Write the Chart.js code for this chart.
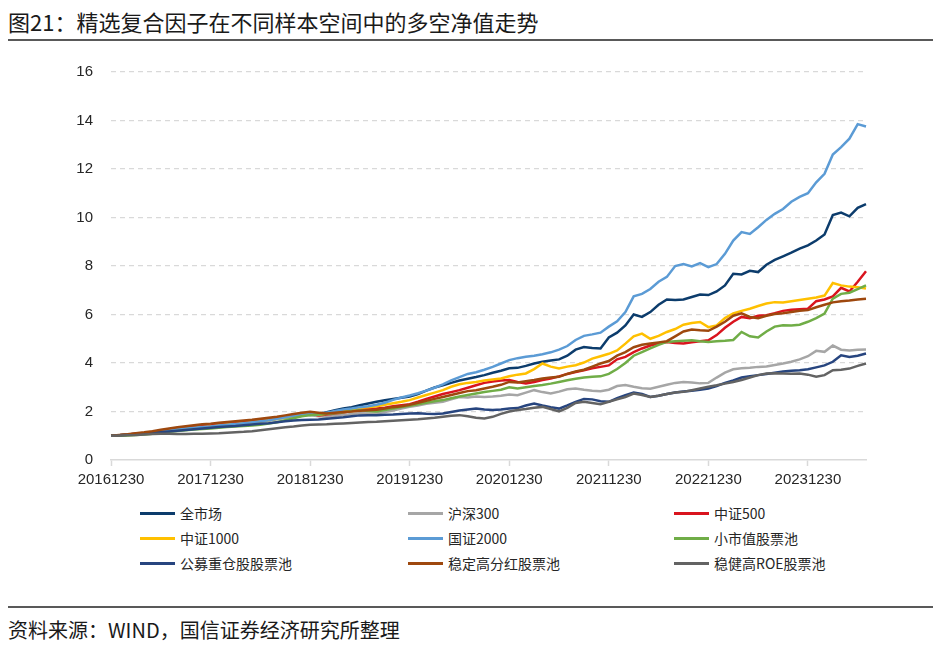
<!DOCTYPE html>
<html><head><meta charset="utf-8">
<script src="https://cdn.jsdelivr.net/npm/chart.js@4"></script>
<style>
html,body{margin:0;padding:0;background:#fff;width:933px;height:652px;overflow:hidden;font-family:"Noto Sans CJK SC","Noto Sans",sans-serif;}
#title{position:absolute;left:8px;top:6px;font-size:22px;color:#1a1a1a;white-space:nowrap;line-height:30px;}
#rule1{position:absolute;left:8px;right:0;top:39px;height:2px;background:#595959;}
#rule2{position:absolute;left:8px;right:0;top:606px;height:2px;background:#595959;}
#source{position:absolute;left:8px;top:615px;font-size:20px;color:#1a1a1a;white-space:nowrap;line-height:30px;}
#wrap{position:absolute;left:0;top:45px;width:933px;height:450px;}
.lg{position:absolute;height:20px;display:flex;align-items:center;font-size:14px;color:#262626;white-space:nowrap;}
.lg span.l{display:inline-block;width:35px;height:3px;margin-right:5px;}
</style></head>
<body>
<div id="title">图21：精选复合因子在不同样本空间中的多空净值走势</div>
<div id="rule1"></div>
<div id="wrap"><canvas id="c"></canvas></div>
<div id="legend"></div>
<div id="rule2"></div>
<div id="source">资料来源：WIND，国信证券经济研究所整理</div>
<script>
// x tick labels (year ends)
const yearTicks = ['20161230','20171230','20181230','20191230','20201230','20211230','20221230','20231230'];
// monthly categories Dec 2016 .. Jul 2024
const months = [];
for (let i = 0; i < 92; i++) { const y = 2016 + Math.floor((11 + i) / 12); const mo = (11 + i) % 12 + 1; months.push(String(y) + String(mo).padStart(2, '0')); }

const seriesNames = ['全市场','沪深300','中证500','中证1000','国证2000','小市值股票池','公募重仓股股票池','稳定高分红股票池','稳健高ROE股票池'];

const allMarket = [1.00,1.02,1.05,1.08,1.11,1.15,1.19,1.24,1.28,1.31,1.34,1.37,1.40,1.44,1.47,1.50,1.54,1.58,1.62,1.66,1.71,1.76,1.81,1.85,1.88,1.90,1.97,2.05,2.12,2.18,2.26,2.33,2.40,2.46,2.52,2.57,2.62,2.72,2.86,2.99,3.08,3.18,3.28,3.35,3.42,3.50,3.60,3.68,3.78,3.80,3.88,3.98,4.05,4.10,4.15,4.30,4.55,4.66,4.62,4.60,5.05,5.25,5.55,6.00,5.90,6.10,6.40,6.62,6.60,6.62,6.72,6.82,6.80,6.95,7.20,7.68,7.65,7.80,7.75,8.05,8.25,8.40,8.55,8.72,8.85,9.05,9.30,10.10,10.20,10.05,10.40,10.55];
const hs300 = [1.00,1.02,1.04,1.06,1.09,1.13,1.17,1.21,1.25,1.28,1.31,1.33,1.35,1.39,1.43,1.46,1.50,1.54,1.58,1.63,1.68,1.74,1.79,1.83,1.86,1.80,1.78,1.82,1.86,1.90,1.93,1.92,1.92,1.98,2.04,2.12,2.19,2.25,2.32,2.36,2.40,2.50,2.60,2.58,2.62,2.60,2.62,2.65,2.70,2.67,2.78,2.88,2.80,2.74,2.82,2.92,2.95,2.90,2.86,2.84,2.90,3.05,3.09,3.02,2.96,2.94,3.02,3.10,3.18,3.22,3.20,3.16,3.18,3.40,3.60,3.74,3.78,3.80,3.84,3.86,3.92,3.98,4.05,4.15,4.28,4.50,4.46,4.72,4.55,4.52,4.55,4.56];
const zz500 = [1.00,1.02,1.05,1.08,1.11,1.15,1.20,1.25,1.30,1.33,1.36,1.39,1.42,1.46,1.50,1.52,1.56,1.60,1.64,1.68,1.74,1.80,1.86,1.90,1.94,1.84,1.88,1.92,1.96,2.02,2.08,2.10,2.12,2.16,2.22,2.26,2.30,2.40,2.52,2.62,2.72,2.80,2.88,2.98,3.08,3.18,3.24,3.28,3.30,3.22,3.16,3.22,3.30,3.36,3.45,3.55,3.63,3.70,3.78,3.84,3.90,4.15,4.25,4.45,4.60,4.72,4.80,4.87,4.82,4.80,4.86,4.90,4.94,5.15,5.45,5.70,5.90,5.85,5.95,5.97,6.05,6.15,6.20,6.22,6.24,6.55,6.62,6.75,7.10,6.95,7.35,7.78];
const zz1000 = [1.00,1.02,1.04,1.06,1.09,1.13,1.18,1.22,1.26,1.29,1.32,1.35,1.38,1.42,1.46,1.48,1.52,1.56,1.60,1.64,1.70,1.76,1.82,1.86,1.90,1.86,1.92,1.98,2.02,2.08,2.15,2.18,2.22,2.28,2.34,2.40,2.47,2.58,2.68,2.78,2.88,3.02,3.12,3.18,3.22,3.28,3.32,3.36,3.45,3.52,3.57,3.75,3.98,3.85,3.77,3.85,3.91,4.02,4.18,4.28,4.38,4.52,4.80,5.10,5.21,5.00,5.12,5.28,5.40,5.58,5.65,5.69,5.48,5.55,5.85,6.05,6.15,6.24,6.35,6.45,6.51,6.50,6.55,6.60,6.65,6.70,6.78,7.30,7.20,7.15,7.12,7.07];
const gz2000 = [1.00,1.02,1.05,1.07,1.09,1.13,1.18,1.22,1.27,1.30,1.33,1.36,1.38,1.42,1.45,1.48,1.52,1.56,1.60,1.64,1.70,1.76,1.82,1.86,1.90,1.88,1.95,2.02,2.08,2.12,2.18,2.22,2.28,2.36,2.48,2.58,2.66,2.75,2.86,2.98,3.12,3.28,3.42,3.55,3.62,3.72,3.84,3.98,4.12,4.20,4.26,4.30,4.36,4.44,4.55,4.70,4.95,5.12,5.18,5.25,5.50,5.72,6.10,6.75,6.85,7.05,7.35,7.55,8.00,8.08,7.98,8.12,7.95,8.08,8.50,9.05,9.40,9.32,9.60,9.90,10.15,10.35,10.65,10.85,11.00,11.45,11.80,12.60,12.90,13.25,13.85,13.75];
const smallCap = [1.00,1.00,1.01,1.03,1.05,1.08,1.12,1.16,1.20,1.23,1.26,1.28,1.30,1.33,1.36,1.38,1.40,1.42,1.45,1.50,1.56,1.64,1.72,1.80,1.85,1.88,1.90,1.93,1.97,2.02,2.05,2.02,2.00,2.06,2.12,2.18,2.24,2.30,2.36,2.42,2.47,2.55,2.62,2.68,2.74,2.80,2.85,2.90,3.00,2.95,3.00,3.05,3.09,3.15,3.22,3.29,3.35,3.40,3.43,3.45,3.55,3.75,4.00,4.30,4.45,4.60,4.75,4.87,4.90,4.92,4.94,4.90,4.87,4.90,4.92,4.95,5.28,5.10,5.05,5.30,5.50,5.56,5.55,5.58,5.70,5.85,6.04,6.65,6.85,6.90,7.05,7.20];
const fundHeavy = [1.00,1.02,1.04,1.06,1.09,1.12,1.15,1.18,1.21,1.24,1.27,1.30,1.33,1.36,1.38,1.40,1.43,1.46,1.49,1.52,1.56,1.60,1.63,1.65,1.66,1.67,1.70,1.73,1.76,1.80,1.84,1.85,1.85,1.87,1.88,1.90,1.92,1.93,1.91,1.90,1.92,1.98,2.04,2.08,2.12,2.08,2.06,2.08,2.12,2.14,2.25,2.33,2.25,2.18,2.12,2.25,2.40,2.52,2.50,2.42,2.40,2.55,2.67,2.78,2.72,2.60,2.65,2.72,2.78,2.82,2.86,2.90,2.95,3.05,3.18,3.28,3.40,3.45,3.50,3.55,3.60,3.65,3.68,3.70,3.74,3.82,3.90,4.05,4.32,4.25,4.30,4.39];
const highDiv = [1.00,1.03,1.06,1.10,1.14,1.19,1.25,1.30,1.35,1.39,1.43,1.47,1.50,1.54,1.57,1.60,1.63,1.66,1.70,1.74,1.78,1.84,1.90,1.95,1.99,1.95,1.92,1.95,1.98,2.00,2.03,2.05,2.07,2.12,2.18,2.22,2.28,2.36,2.44,2.52,2.60,2.68,2.76,2.84,2.88,2.95,3.02,3.10,3.22,3.20,3.25,3.30,3.36,3.40,3.43,3.55,3.65,3.72,3.85,3.98,4.08,4.30,4.45,4.65,4.75,4.80,4.85,4.90,5.10,5.30,5.38,5.35,5.33,5.50,5.70,5.95,6.05,5.90,5.85,5.95,6.02,6.05,6.10,6.15,6.18,6.30,6.40,6.50,6.55,6.58,6.62,6.65];
const highRoe = [1.00,1.01,1.02,1.03,1.05,1.07,1.08,1.08,1.07,1.07,1.08,1.08,1.09,1.10,1.12,1.14,1.16,1.19,1.23,1.27,1.31,1.35,1.38,1.42,1.45,1.46,1.47,1.49,1.51,1.53,1.55,1.57,1.58,1.60,1.62,1.64,1.66,1.68,1.71,1.74,1.78,1.82,1.85,1.80,1.74,1.71,1.78,1.90,2.00,2.06,2.10,2.15,2.19,2.10,2.00,2.15,2.35,2.40,2.35,2.30,2.40,2.50,2.60,2.74,2.68,2.60,2.65,2.72,2.78,2.81,2.88,2.95,3.02,3.08,3.15,3.22,3.30,3.40,3.50,3.57,3.58,3.57,3.56,3.57,3.52,3.43,3.50,3.70,3.72,3.77,3.88,3.98];

const seriesData = [allMarket, hs300, zz500, zz1000, gz2000, smallCap, fundHeavy, highDiv, highRoe];
const seriesColors = ['#0c3c6c','#a6a6a6','#d9141e','#ffc000','#5b9bd5','#70ad47','#27457f','#9e480e','#636363'];

const datasets = seriesNames.map((n, i) => ({
  label: n, data: seriesData[i], borderColor: seriesColors[i], backgroundColor: seriesColors[i],
  borderWidth: 2.5, pointRadius: 0, tension: 0, fill: false, order: 9 - i
}));

new Chart(document.getElementById('c'), {
  type: 'line',
  data: { labels: months, datasets },
  options: {
    responsive: true, maintainAspectRatio: false, animation: false,
    layout: { padding: { left: 0, right: 67, top: 16, bottom: 0 } },
    plugins: { legend: { display: false }, tooltip: { enabled: false } },
    scales: {
      x: {
        type: 'category', offset: false,
        afterFit: s => { s.height = 35; },
        grid: { drawOnChartArea: false, drawTicks: true, tickLength: 6, tickWidth: 1.5,
          tickColor: ctx => (ctx.index % 12 === 0 ? '#d9d9d9' : 'rgba(0,0,0,0)') },
        border: { display: true, color: '#d9d9d9', width: 1.5 },
        ticks: { autoSkip: false, maxRotation: 0, minRotation: 0, padding: 5, color: '#262626',
          font: { family: 'Liberation Sans', size: 15 },
          callback: (v, i) => (i % 12 === 0 ? yearTicks[i / 12] : '') }
      },
      y: {
        min: 0, max: 16,
        afterFit: s => { s.width = 111; },
        grid: { color: ctx => (ctx.tick && ctx.tick.value === 0 ? 'rgba(0,0,0,0)' : '#d9d9d9'), lineWidth: 1.2, drawTicks: false },
        border: { display: false, dash: [5, 4] },
        ticks: { stepSize: 2, padding: 18, color: '#262626', font: { family: 'Liberation Sans', size: 15 } }
      }
    }
  }
});

// legend (3 columns x 3 rows)
const lgX = [140, 408, 674], lgY = [503, 528, 553];
const lg = document.getElementById('legend');
seriesNames.forEach((n, i) => {
  const d = document.createElement('div');
  d.className = 'lg';
  d.style.left = lgX[i % 3] + 'px';
  d.style.top = lgY[Math.floor(i / 3)] + 'px';
  d.innerHTML = '<span class="l" style="background:' + seriesColors[i] + '"></span>' + n;
  lg.appendChild(d);
});
</script>
</body></html>
